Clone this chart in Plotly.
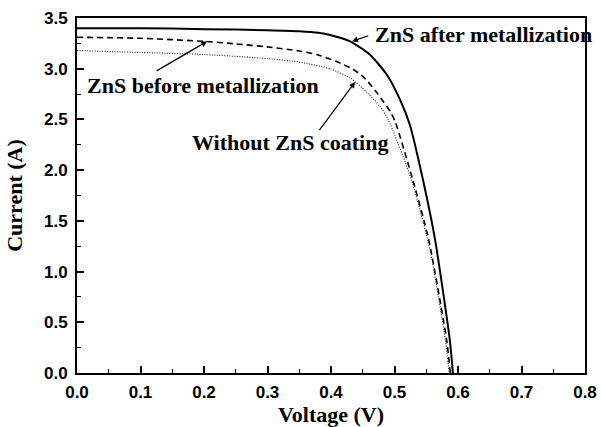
import plotly.graph_objects as go

# Data
v_after = [0.00, 0.10, 0.20, 0.30, 0.35, 0.38, 0.40, 0.43, 0.461, 0.488, 0.509, 0.524, 0.545, 0.564, 0.587, 0.592]
i_after = [3.40, 3.40, 3.39, 3.38, 3.37, 3.355, 3.33, 3.27, 3.14, 2.94, 2.69, 2.45, 1.90, 1.31, 0.33, 0.00]

v_before = [0.00, 0.10, 0.20, 0.25, 0.30, 0.35, 0.38, 0.409, 0.433, 0.451, 0.469, 0.482, 0.493, 0.501, 0.529, 0.554, 0.582, 0.588]
i_before = [3.31, 3.30, 3.27, 3.245, 3.215, 3.175, 3.135, 3.07, 3.00, 2.92, 2.79, 2.68, 2.58, 2.48, 1.90, 1.31, 0.33, 0.00]

v_without = [0.00, 0.10, 0.20, 0.30, 0.35, 0.398, 0.43, 0.456, 0.477, 0.49, 0.527, 0.556, 0.580, 0.586]
i_without = [3.18, 3.16, 3.14, 3.10, 3.065, 3.00, 2.91, 2.77, 2.63, 2.50, 1.90, 1.21, 0.33, 0.00]

x_title = "Voltage (V)"
y_title = "Current (A)"
labels = ["ZnS after metallization", "ZnS before metallization", "Without ZnS coating"]

fig = go.Figure()
fig.add_trace(go.Scatter(x=v_after, y=i_after, mode="lines",
                         line=dict(color="black", width=2, shape="spline", smoothing=0.6)))
fig.add_trace(go.Scatter(x=v_before, y=i_before, mode="lines",
                         line=dict(color="black", width=1.6, dash="6px,4px", shape="spline", smoothing=0.6)))
fig.add_trace(go.Scatter(x=v_without, y=i_without, mode="lines",
                         line=dict(color="#222", width=1.1, dash="1px,1.5px", shape="spline", smoothing=0.6)))

serif = dict(family="Liberation Serif", size=22, color="black", weight="bold")

# text labels
text_pos = [(0.466, 3.335), (0.013, 2.835), (0.178, 2.27)]
for (tx, ty), lab in zip(text_pos, labels):
    fig.add_annotation(x=tx, y=ty, text=lab, showarrow=False, xanchor="left", yanchor="middle",
                       font=serif, xref="x", yref="y")

# arrows (tail -> head)
arrows = [((0.461, 3.33), (0.433, 3.27)),
          ((0.123, 2.97), (0.205, 3.27)),
          ((0.380, 2.38), (0.438, 2.87))]
for (ax, ay), (hx, hy) in arrows:
    fig.add_annotation(x=hx, y=hy, ax=ax, ay=ay, axref="x", ayref="y", xref="x", yref="y",
                       text="", showarrow=True, arrowhead=2, arrowsize=1, arrowwidth=1.2,
                       arrowcolor="black", standoff=0, startstandoff=0)

tickfont = dict(family="Liberation Sans", size=17, color="black", weight="bold")
fig.update_xaxes(range=[0, 0.8], dtick=0.1, tickformat=".1f", ticks="inside", ticklen=7, tickwidth=1.5,
                 tickcolor="black", showline=True, linewidth=2, linecolor="black", mirror=True,
                 showgrid=False, zeroline=False, tickfont=tickfont, ticklabelstandoff=3, automargin=False,
                 minor=dict(ticks="inside", ticklen=4, dtick=0.05, tickwidth=1.2, tickcolor="black"),
                 title=dict(text=x_title, font=serif, standoff=4))
fig.update_yaxes(range=[0, 3.5], dtick=0.5, tickformat=".1f", ticks="inside", ticklen=7, tickwidth=1.5,
                 tickcolor="black", showline=True, linewidth=2, linecolor="black", mirror=True,
                 showgrid=False, zeroline=False, tickfont=tickfont, ticklabelstandoff=4, automargin=False,
                 minor=dict(ticks="inside", ticklen=4, dtick=0.25, tickwidth=1.2, tickcolor="black"),
                 title=dict(text=y_title, font=serif, standoff=15))

fig.update_layout(width=601, height=427, margin=dict(l=77, r=16, t=18, b=54),
                  plot_bgcolor="white", paper_bgcolor="white", showlegend=False)

fig.write_html("out.html")
